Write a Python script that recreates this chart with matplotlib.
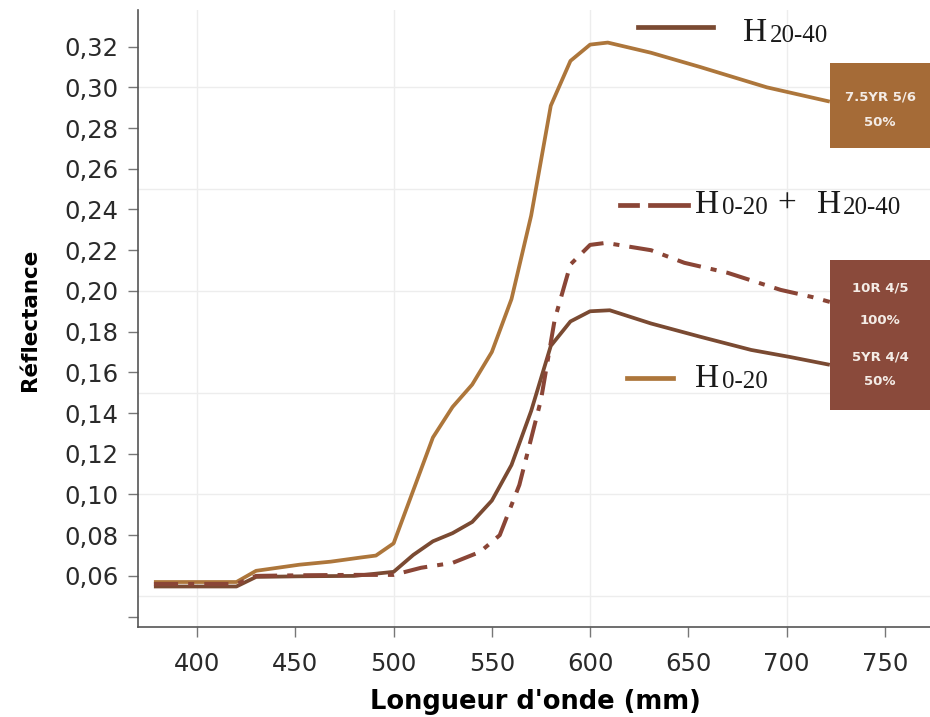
import numpy as np
import matplotlib as mpl
import matplotlib.pyplot as plt
from matplotlib.patches import Rectangle
from matplotlib.ticker import FuncFormatter

# Spectral reflectance curves (wavelength in nm)
wl_h020 = [378, 407, 420, 430, 452, 468, 483, 491, 500, 510, 520, 530, 540, 550,
           560, 570, 580, 590, 600, 609, 631, 656, 690, 722]
r_h020 = [0.057, 0.057, 0.057, 0.0625, 0.0655, 0.067, 0.069, 0.070, 0.076, 0.102,
          0.128, 0.143, 0.154, 0.170, 0.196, 0.237, 0.291, 0.313, 0.321, 0.322,
          0.317, 0.310, 0.300, 0.293]

wl_h2040 = [378, 407, 420, 430, 452, 480, 500, 510, 520, 530, 540, 550, 560, 570,
            580, 590, 600, 610, 631, 656, 682, 702, 722]
r_h2040 = [0.0548, 0.0548, 0.0548, 0.0595, 0.0598, 0.060, 0.062, 0.0703, 0.077,
           0.081, 0.0865, 0.097, 0.1145, 0.141, 0.173, 0.185, 0.190, 0.1905, 0.184,
           0.1775, 0.171, 0.1675, 0.1637]

wl_mix = [378, 407, 420, 430, 452, 480, 500, 514, 530, 544, 554, 564, 575, 582,
          590, 600, 608, 631, 648, 670, 697, 713, 722]
r_mix = [0.056, 0.056, 0.056, 0.0600, 0.0603, 0.0605, 0.0605, 0.064, 0.0664,
         0.0718, 0.080, 0.1047, 0.1465, 0.186, 0.213, 0.2226, 0.2236, 0.220,
         0.2138, 0.2089, 0.2005, 0.197, 0.1946]

yticks = [0.04, 0.06, 0.08, 0.10, 0.12, 0.14, 0.16, 0.18, 0.20, 0.22, 0.24, 0.26,
          0.28, 0.30, 0.32]
xticks = [400, 450, 500, 550, 600, 650, 700, 750]

c_h020 = '#ad763b'
c_h2040 = '#7a4a32'
c_mix = '#8a4536'

W, H = 930, 717


def px(x, y):
    return x / W, 1 - y / H


fig = plt.figure(figsize=(W / 100, H / 100), dpi=100)
ax = fig.add_axes([138 / W, 1 - 627 / H, 1 - 138 / W, (627 - 10) / H])

for v in [0.05, 0.10, 0.15, 0.20, 0.25, 0.30]:
    ax.axhline(v, color='#ededed', lw=1.0, zorder=0)
for v in [400, 500, 600, 700]:
    ax.axvline(v, color='#ededed', lw=1.0, zorder=0)

ax.plot(wl_h020, r_h020, color=c_h020, lw=2.7, solid_capstyle='butt', zorder=3)
ax.plot(wl_h2040, r_h2040, color=c_h2040, lw=2.7, solid_capstyle='butt', zorder=3)
ax.plot(wl_mix, r_mix, color=c_mix, lw=2.9, dashes=(6, 2.5, 1.5, 2.5), zorder=3)

ax.set_xlim(369.9, 773)
ax.set_ylim(0.0349, 0.338)
ax.set_xticks(xticks)
ax.set_yticks(yticks)
ax.yaxis.set_major_formatter(FuncFormatter(
    lambda v, p: '' if v < 0.05 else '{:.2f}'.format(v).replace('.', ',')))

for side in ['top', 'right']:
    ax.spines[side].set_visible(False)
for side in ['left', 'bottom']:
    ax.spines[side].set_color('#555555')
    ax.spines[side].set_linewidth(1.2)
ax.tick_params(axis='both', direction='out', length=7, width=1.0, color='#777777',
               labelsize=17.5, labelcolor='#2a2a2a')
ax.tick_params(axis='y', pad=7)
ax.tick_params(axis='x', pad=11)
for lab in ax.get_xticklabels() + ax.get_yticklabels():
    lab.set_family('DejaVu Sans')

fig.text(*px(535, 702), "Longueur d'onde (mm)", ha='center', va='center',
         fontsize=18.5, fontweight='bold', family='DejaVu Sans')
fig.text(*px(30, 320), 'Réflectance', rotation=90, ha='center',
         va='center', fontsize=15.5, fontweight='bold',
         family=['Liberation Sans Narrow', 'DejaVu Sans'])

# colour boxes at the right end of the curves
box1 = Rectangle(px(830, 148), 100 / W, 85 / H, transform=fig.transFigure,
                 facecolor='#a56b37', edgecolor='none', zorder=5)
box2 = Rectangle(px(830, 410), 100 / W, 150 / H, transform=fig.transFigure,
                 facecolor='#8a4a3b', edgecolor='none', zorder=5)
fig.add_artist(box1)
fig.add_artist(box2)
box_text = [((880, 97), '7.5YR 5/6'), ((880, 122), '50%'),
            ((880, 288), '10R 4/5'), ((880, 320), '100%'),
            ((880, 357), '5YR 4/4'), ((880, 382), '50%')]
for (x, y), s in box_text:
    fig.text(*px(x, y), s, ha='center', va='center', color='#f4ece6',
             fontsize=9.5, fontweight='bold', zorder=6)


# legend drawn as free lines and labels
def legend_line(x0, x1, y, **kw):
    fig.add_artist(plt.Line2D([x0 / W, x1 / W], [1 - y / H, 1 - y / H],
                              transform=fig.transFigure, **kw))


def horizon(x, y, sub, x_sub):
    fig.text(*px(x, y), 'H', fontsize=24, family='Liberation Serif',
             va='baseline', color='#1a1a1a')
    fig.text(*px(x_sub, y + 1), sub, fontsize=18, family='Liberation Serif',
             va='baseline', color='#1a1a1a')


legend_line(638, 713, 27, color=c_h2040, lw=3.4)
horizon(743, 41, '20-40', 770)

legend_line(620, 637, 205, color=c_mix, lw=3.4)
legend_line(650, 688, 205, color=c_mix, lw=3.4)
horizon(695, 213, '0-20', 722)
fig.text(*px(777, 213), '+', fontsize=24, family='Liberation Serif',
         va='baseline', color='#1a1a1a')
horizon(817, 213, '20-40', 843)

legend_line(627, 673, 378, color=c_h020, lw=3.4)
horizon(695, 387, '0-20', 722)

fig.savefig('out.png', dpi=100)
